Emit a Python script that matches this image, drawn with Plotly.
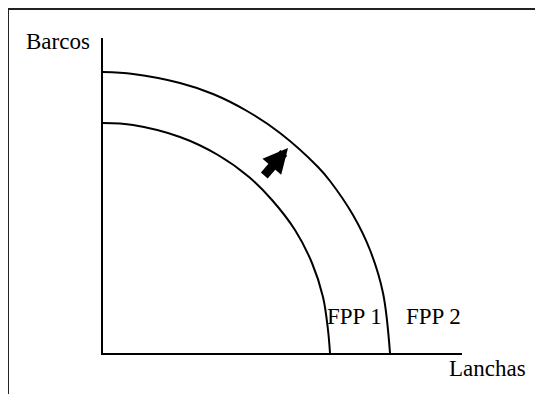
import plotly.graph_objects as go

# curve points (x = Lanchas, y = Barcos)
fpp1_x = [0, 30, 77, 115, 146, 169, 192, 209, 220, 225, 227]
fpp1_y = [230, 228, 216, 198, 176, 153, 123, 90, 56, 23, 0]

fpp2_x = [0, 30, 77, 110, 144, 177, 215, 227, 250, 267, 280, 287]
fpp2_y = [281, 279, 270, 259, 242, 220, 186, 172, 138, 103, 60, 0]

# shift arrow (tail -> tip)
arrow_tail = (160, 176)
arrow_tip = (185, 205)

X_MAX, Y_MAX = 359, 315
FONT = "Palatino Linotype, Book Antiqua, Palatino, Liberation Serif, serif"

fig = go.Figure()
for xs, ys in [(fpp1_x, fpp1_y), (fpp2_x, fpp2_y)]:
    fig.add_trace(
        go.Scatter(
            x=xs, y=ys, mode="lines",
            line=dict(color="black", width=2, shape="spline", smoothing=1),
            showlegend=False, hoverinfo="skip",
        )
    )

fig.add_annotation(
    x=arrow_tip[0], y=arrow_tip[1], ax=arrow_tail[0], ay=arrow_tail[1],
    xref="x", yref="y", axref="x", ayref="y",
    text="", showarrow=True, arrowhead=2, arrowsize=0.55, arrowwidth=9,
    arrowcolor="black",
)

txt_font = dict(family=FONT, size=23, color="black")
for txt, x in [("FPP 1", 222), ("FPP 2", 301)]:
    fig.add_annotation(x=x, y=37, xref="x", yref="y", text=txt, showarrow=False,
                       xanchor="left", yanchor="middle", font=txt_font)

# axis names sit outside the plot area, so place them in paper units
fig.add_annotation(x=-0.03, y=0.99, xref="paper", yref="paper", text="Barcos",
                   showarrow=False, xanchor="right", yanchor="middle", font=txt_font)
fig.add_annotation(x=0.958, y=-0.049, xref="paper", yref="paper", text="Lanchas",
                   showarrow=False, xanchor="left", yanchor="middle", font=txt_font)

# frame around the picture (cropped at right and bottom)
px0 = -95 / X_MAX
py0 = 344 / Y_MAX
fig.add_shape(type="line", xref="paper", yref="paper",
              x0=px0, x1=px0, y0=-0.3, y1=py0, line=dict(color="#222", width=2))
fig.add_shape(type="line", xref="paper", yref="paper",
              x0=px0, x1=1.4, y0=py0, y1=py0, line=dict(color="#222", width=2))

fig.update_layout(
    width=543, height=394,
    margin=dict(l=95, r=89, t=30, b=49),
    paper_bgcolor="white", plot_bgcolor="white",
    font=dict(family=FONT),
)
fig.update_xaxes(range=[0, X_MAX], showline=True, linecolor="black", linewidth=2,
                 showgrid=False, zeroline=False, showticklabels=False, ticks="")
fig.update_yaxes(range=[0, Y_MAX], showline=True, linecolor="black", linewidth=2,
                 showgrid=False, zeroline=False, showticklabels=False, ticks="")

fig.write_html("out.html")
